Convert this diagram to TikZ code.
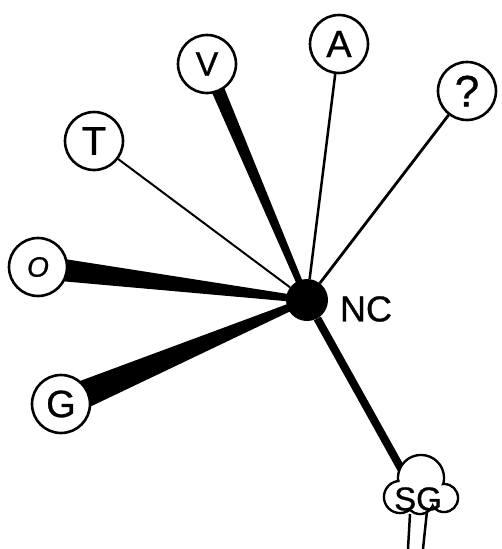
\documentclass[tikz,border=0pt]{standalone}
\usepackage{fontspec}
\setsansfont{Liberation Sans}[FakeBold=0.8]
\usetikzlibrary{calc,backgrounds}
\newcommand\wedgeconn[4]{\fill ($(#1)!#3!90:(#2)$) -- ($(#2)!#4!-90:(#1)$) -- ($(#2)!#4!90:(#1)$) -- ($(#1)!#3!-90:(#2)$) -- cycle;}
\begin{document}
\begin{tikzpicture}[x=1pt,y=-1pt,
  letter/.style={circle,draw,line width=2.6pt,minimum size=58pt,inner sep=0pt,fill=white,font=\fontsize{34}{34}\sffamily},
  spoke/.style={line width=#1},
  cloud/.style={draw,line width=2.5pt,fill=white},
  cloudin/.style={fill=white}]
\useasboundingbox (0,0) rectangle (501,549);
% hub
\node[circle,fill=black,minimum size=42pt,inner sep=0pt] (NC) at (307,300) {};
\node[font=\fontsize{36}{36}\sffamily] (NClab) at (366,309) {NC};
% satellites
\node[letter] (V) at (207,64) {V};
\node[letter,font=\fontsize{38}{38}\sffamily] (A) at (339,44) {A};
\node[letter,font=\fontsize{44}{44}\sffamily] (Q) at (467,91) {?};
\node[letter,font=\fontsize{40}{40}\sffamily] (T) at (94,141) {T};
\node[letter,font=\fontsize{28}{28}\sffamily\itshape] (O) at (38,267) {O};
\node[letter,font=\fontsize{38}{38}\sffamily] (G) at (61,404) {G};
% SG cloud
\draw[cloud] (421,478) circle[radius=23];
\draw[cloud] (400,497) circle[radius=16];
\draw[cloud] (444,498) circle[radius=14];
\draw[cloud] (420,500) circle[radius=14];
\fill[cloudin] (421,478) circle[radius=21.6];
\fill[cloudin] (400,497) circle[radius=14.6];
\fill[cloudin] (444,498) circle[radius=12.6];
\fill[cloudin] (420,500) circle[radius=12.6];
\node[font=\fontsize{33}{33}\sffamily] (SG) at (418,499) {SG};
\coordinate (SGa) at (410,514);
\coordinate (SGb) at (408,549);
\coordinate (SGc) at (427,511);
\coordinate (SGd) at (423,549);
\draw[line width=2.5pt] (SGa) -- (SGb);
\draw[line width=2.5pt] (SGc) -- (SGd);
% connectors
\begin{pgfonlayer}{background}
\draw[spoke=2pt] (NC) -- (T);
\draw[spoke=2.5pt] (NC) -- (A);
\draw[spoke=2.8pt] (NC) -- (Q);
\draw[spoke=8pt] (NC) -- (SG);
\wedgeconn{V}{NC}{7pt}{3pt}
\wedgeconn{O}{NC}{12pt}{3pt}
\wedgeconn{G}{NC}{15pt}{3pt}
\end{pgfonlayer}
\end{tikzpicture}
\end{document}
